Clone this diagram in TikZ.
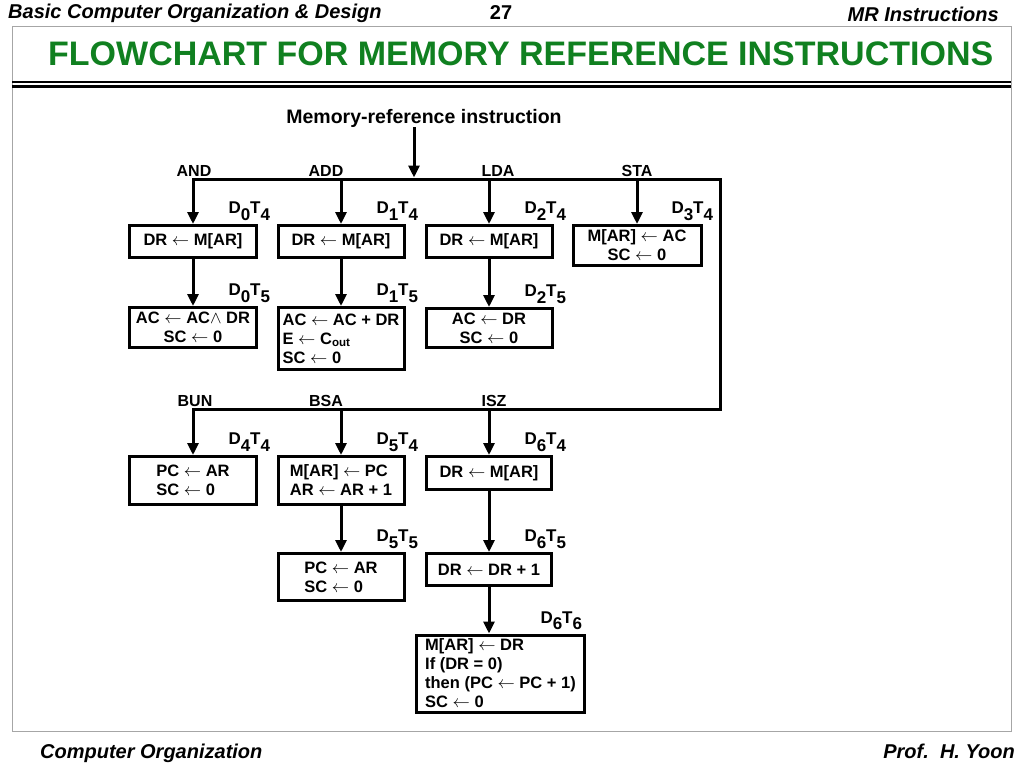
\documentclass[tikz,border=0pt]{standalone}
\usepackage{fontspec}
\setmainfont{Liberation Sans}
\usepackage{tikz}
\usetikzlibrary{positioning}
\usetikzlibrary{arrows.meta}
\usepackage{xcolor}
\definecolor{titlegreen}{RGB}{16,128,32}
\newcommand{\dsub}[1]{\raisebox{-0.4em}{#1}}

\begin{document}
\begin{tikzpicture}[x=1pt, y=-1pt, >=Triangle,
    box/.style={draw, line width=3pt, inner sep=4pt, align=center,
        font=\fontsize{16.5}{19}\selectfont\bfseries},
    boxl/.style={box, align=left},
    bus/.style={line width=3pt, line cap=rect},
    flow/.style={line width=3pt, -{Triangle[width=11pt, length=12pt]}},
    tag/.style={anchor=south west, inner sep=0pt, xshift=34pt, yshift=2pt,
        font=\fontsize{17}{17}\selectfont\bfseries},
    opc/.style={anchor=base, inner sep=0pt, font=\fontsize{16}{16}\selectfont\bfseries},
    hdr/.style={inner sep=0pt, font=\fontsize{20}{20}\selectfont\bfseries\itshape}]
    \useasboundingbox (0,0) rectangle (1024,768);
    % page frame
    \draw[gray!70, line width=1pt] (12,27) rectangle (1011,731);
    \draw[line width=1.2pt] (12,82) -- (1011,82);
    \draw[line width=3pt] (12,86.5) -- (1011,86.5);
    \node[hdr, anchor=base west] (hleft) at (8,19) {Basic Computer Organization \& Design};
    \node[hdr, anchor=base, font=\fontsize{20}{20}\selectfont\bfseries] (hpage) at (501,20) {27};
    \node[hdr, anchor=base east] (hright) at (999,21.5) {MR Instructions};
    \node[anchor=base west, inner sep=0pt, text=titlegreen,
        font=\fontsize{34}{34}\selectfont\bfseries] (title) at (48,65)
        {FLOWCHART FOR MEMORY REFERENCE INSTRUCTIONS};
    \node[hdr, anchor=base west] (fleft) at (40,758) {Computer Organization};
    \node[hdr, anchor=base east] (fright) at (1015,758) {Prof.\ \ H. Yoon};

    % entry and buses
    \node[anchor=base, inner sep=0pt, font=\fontsize{19.5}{19.5}\selectfont\bfseries] (mri)
        at (424,123) {Memory-reference instruction};
    \coordinate (tIN) at (414,179);
    \coordinate (tAND) at (193,179);
    \coordinate (tADD) at (341,179);
    \coordinate (tLDA) at (489,179);
    \coordinate (tSTA) at (637,179);
    \coordinate (tR) at (720,179);
    \coordinate (bR) at (720,409);
    \coordinate (bBUN) at (193,409);
    \coordinate (bBSA) at (341,409);
    \coordinate (bISZ) at (489,409);
    \draw[bus] (tAND) -- (tR) -- (bR) -- (bBUN);
    \draw[flow] (mri.south -| tIN) -- ([yshift=1.5pt]tIN);
    \node[opc] (lAND) at (194,176) {AND};
    \node[opc] (lADD) at (326,176) {ADD};
    \node[opc] (lLDA) at (498,176) {LDA};
    \node[opc] (lSTA) at (637,176) {STA};
    \node[opc] (lBUN) at (195,406.5) {BUN};
    \node[opc] (lBSA) at (326,406.5) {BSA};
    \node[opc] (lISZ) at (494,406.5) {ISZ};

    % first group
    \node[box, minimum width=127pt, minimum height=32pt] (b1) at (193,241.5) {DR $\leftarrow$ M[AR]};
    \node[box, minimum width=126pt, minimum height=32pt] (b2) at (341,241.5) {DR $\leftarrow$ M[AR]};
    \node[box, minimum width=126pt, minimum height=32pt] (b3) at (489,241.5) {DR $\leftarrow$ M[AR]};
    \node[box, minimum width=128pt, minimum height=40pt] (b4) at (637,245.5) {M[AR] $\leftarrow$ AC\\SC $\leftarrow$ 0};
    \node[box, minimum width=127pt, minimum height=40pt] (c1) at (193,327.5) {AC $\leftarrow$ AC$\wedge$ DR\\SC $\leftarrow$ 0};
    \node[boxl, minimum width=126pt, minimum height=62pt] (c2) at (341,338.5)
        {AC $\leftarrow$ AC + DR\\E $\leftarrow$ C\textsubscript{out}\\SC $\leftarrow$ 0};
    \node[box, minimum width=126pt, minimum height=39pt] (c3) at (489,328) {AC $\leftarrow$ DR\\SC $\leftarrow$ 0};

    \draw[flow] (tAND) -- (tAND |- b1.north) node[tag] (t1) {D\dsub{0}T\dsub{4}};
    \draw[flow] (tADD) -- (tADD |- b2.north) node[tag] (t2) {D\dsub{1}T\dsub{4}};
    \draw[flow] (tLDA) -- (tLDA |- b3.north) node[tag] (t3) {D\dsub{2}T\dsub{4}};
    \draw[flow] (tSTA) -- (tSTA |- b4.north) node[tag, xshift=-1pt] (t4) {D\dsub{3}T\dsub{4}};
    \draw[flow] (b1.south) -- (b1.south |- c1.north) node[tag] (t5) {D\dsub{0}T\dsub{5}};
    \draw[flow] (b2.south) -- (b2.south |- c2.north) node[tag] (t6) {D\dsub{1}T\dsub{5}};
    \draw[flow] (b3.south) -- (b3.south |- c3.north) node[tag] (t7) {D\dsub{2}T\dsub{5}};

    % second group
    \node[boxl, minimum width=127pt, minimum height=48pt] (e1) at (193,480.5) {PC $\leftarrow$ AR\\SC $\leftarrow$ 0};
    \node[boxl, minimum width=126pt, minimum height=48pt] (e2) at (341,480.5) {M[AR] $\leftarrow$ PC\\AR $\leftarrow$ AR + 1};
    \node[box, minimum width=125pt, minimum height=33pt] (e3) at (489,473) {DR $\leftarrow$ M[AR]};
    \node[boxl, minimum width=126pt, minimum height=47pt] (f2) at (341,577) {PC $\leftarrow$ AR\\SC $\leftarrow$ 0};
    \node[box, minimum width=125pt, minimum height=32pt] (f3) at (489,569.5) {DR $\leftarrow$ DR + 1};
    \node[boxl, minimum width=168pt, minimum height=77pt, inner sep=3pt,
        font=\fontsize{16.5}{19}\selectfont\bfseries] (g3) at (500.5,673.5)
        {M[AR] $\leftarrow$ DR\\If (DR = 0)\\then (PC $\leftarrow$ PC + 1)\\SC $\leftarrow$ 0};

    \draw[flow] (bBUN) -- (bBUN |- e1.north) node[tag] (t8) {D\dsub{4}T\dsub{4}};
    \draw[flow] (bBSA) -- (bBSA |- e2.north) node[tag] (t9) {D\dsub{5}T\dsub{4}};
    \draw[flow] (bISZ) -- (bISZ |- e3.north) node[tag] (t10) {D\dsub{6}T\dsub{4}};
    \draw[flow] (e2.south) -- (e2.south |- f2.north) node[tag] (t11) {D\dsub{5}T\dsub{5}};
    \draw[flow] (e3.south) -- (e3.south |- f3.north) node[tag] (t12) {D\dsub{6}T\dsub{5}};
    \draw[flow] (f3.south) -- (f3.south |- g3.north) node[tag, xshift=16pt] (t13) {D\dsub{6}T\dsub{6}};
\end{tikzpicture}
\end{document}
